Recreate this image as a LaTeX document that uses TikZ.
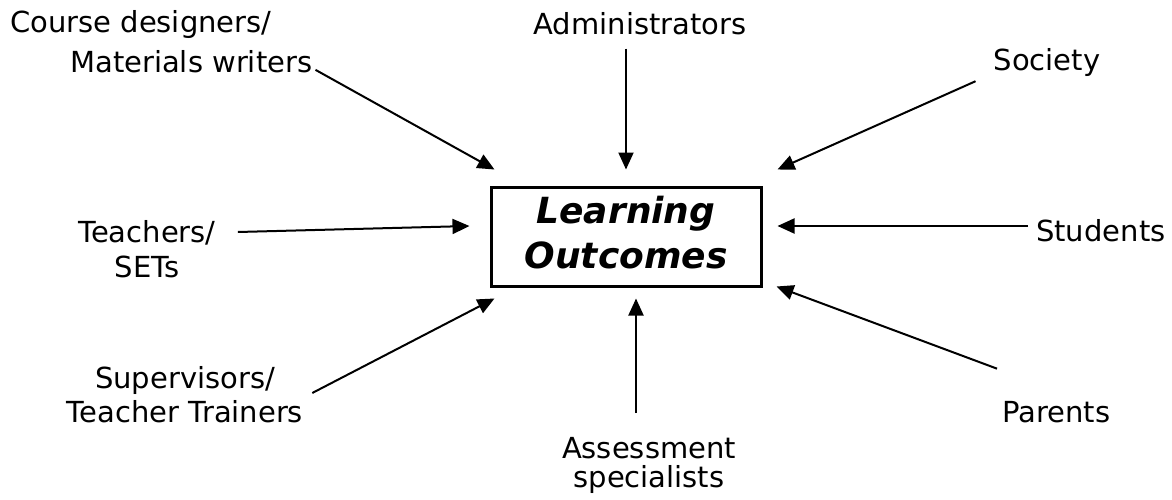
\documentclass[tikz,border=0pt]{standalone}
\usepackage{fontspec}
\setmainfont{DejaVu Sans}
\usetikzlibrary{positioning}
\usetikzlibrary{calc}
\usetikzlibrary{arrows.meta}

\begin{document}
\begin{tikzpicture}
            [
                x=1pt, y=-1pt,
                group/.style={inner sep=0pt, font=\fontsize{29}{36}\selectfont},
                outcome/.style={rectangle, draw, line width=3pt, minimum width=270pt, minimum height=99pt, inner sep=0pt, text depth=8pt, align=center, font=\fontsize{36}{45}\selectfont\bfseries\itshape},
                influence/.style={-{Triangle[length=17pt, width=15pt]}, line width=2pt}
            ]
            \useasboundingbox (0,0) rectangle (1172,500);
            %nodes
            \node[outcome] at (626,236.5)                                              (learning_outcomes)  {Learning\\Outcomes};
            \node[group, align=left, anchor=north west, font=\fontsize{29}{40}\selectfont] at (10,10) (course_designers) {Course designers/\\\hspace*{60pt}Materials writers};
            \node[group, anchor=base] at (640,35)                                      (administrators)     {Administrators};
            \node[group, anchor=base] at (1047,71)                                     (society)            {Society};
            \node[group, align=center, anchor=north, font=\fontsize{29}{35}\selectfont] at (147,220) (teachers) {Teachers/\\SETs};
            \node[group, anchor=base west] at (1036,241)                               (students)           {Students};
            \node[group, align=center, anchor=north, font=\fontsize{29}{34}\selectfont] at (185,366) (supervisors) {Supervisors/\\Teacher Trainers};
            \node[group, align=center, anchor=north, font=\fontsize{29}{29}\selectfont] at (649,437) (assessment) {Assessment\\specialists};
            \node[group, anchor=base west] at (1002,422)                               (parents)            {Parents};
            %arrow ends
            \coordinate (course_designers_out) at ($(course_designers.south east)+(3,-3)$);
            \coordinate (administrators_out)   at ($(administrators.south)+(-14,13)$);
            \coordinate (society_out)          at ($(society.south west)+(-18,4)$);
            \coordinate (teachers_out)         at ($(teachers.north east)+(22,12)$);
            \coordinate (students_out)         at ($(students.base west)+(-8,-15)$);
            \coordinate (supervisors_out)      at ($(supervisors.north east)+(9,27)$);
            \coordinate (assessment_out)       at ($(assessment.north)+(-13,-24)$);
            \coordinate (parents_out)          at ($(parents.north west)+(-5,-32)$);
            \coordinate (course_designers_in)  at ($(learning_outcomes.north west)+(5,-16)$);
            \coordinate (administrators_in)    at ($(learning_outcomes.north)+(0,-16)$);
            \coordinate (society_in)           at ($(learning_outcomes.north east)+(15,-16)$);
            \coordinate (teachers_in)          at ($(learning_outcomes.west)+(-20,-10.5)$);
            \coordinate (students_in)          at ($(learning_outcomes.east)+(15,-10.5)$);
            \coordinate (supervisors_in)       at ($(learning_outcomes.south west)+(5,11)$);
            \coordinate (assessment_in)        at ($(learning_outcomes.south)+(10,11)$);
            \coordinate (parents_in)           at ($(learning_outcomes.south east)+(14,-1)$);
            %arrows
            \draw[influence] (course_designers_out) -- (course_designers_in);
            \draw[influence] (administrators_out)   -- (administrators_in);
            \draw[influence] (society_out)          -- (society_in);
            \draw[influence] (teachers_out)         -- (teachers_in);
            \draw[influence] (students_out)         -- (students_in);
            \draw[influence] (supervisors_out)      -- (supervisors_in);
            \draw[influence] (assessment_out)       -- (assessment_in);
            \draw[influence] (parents_out)          -- (parents_in);
        \end{tikzpicture}
\end{document}
